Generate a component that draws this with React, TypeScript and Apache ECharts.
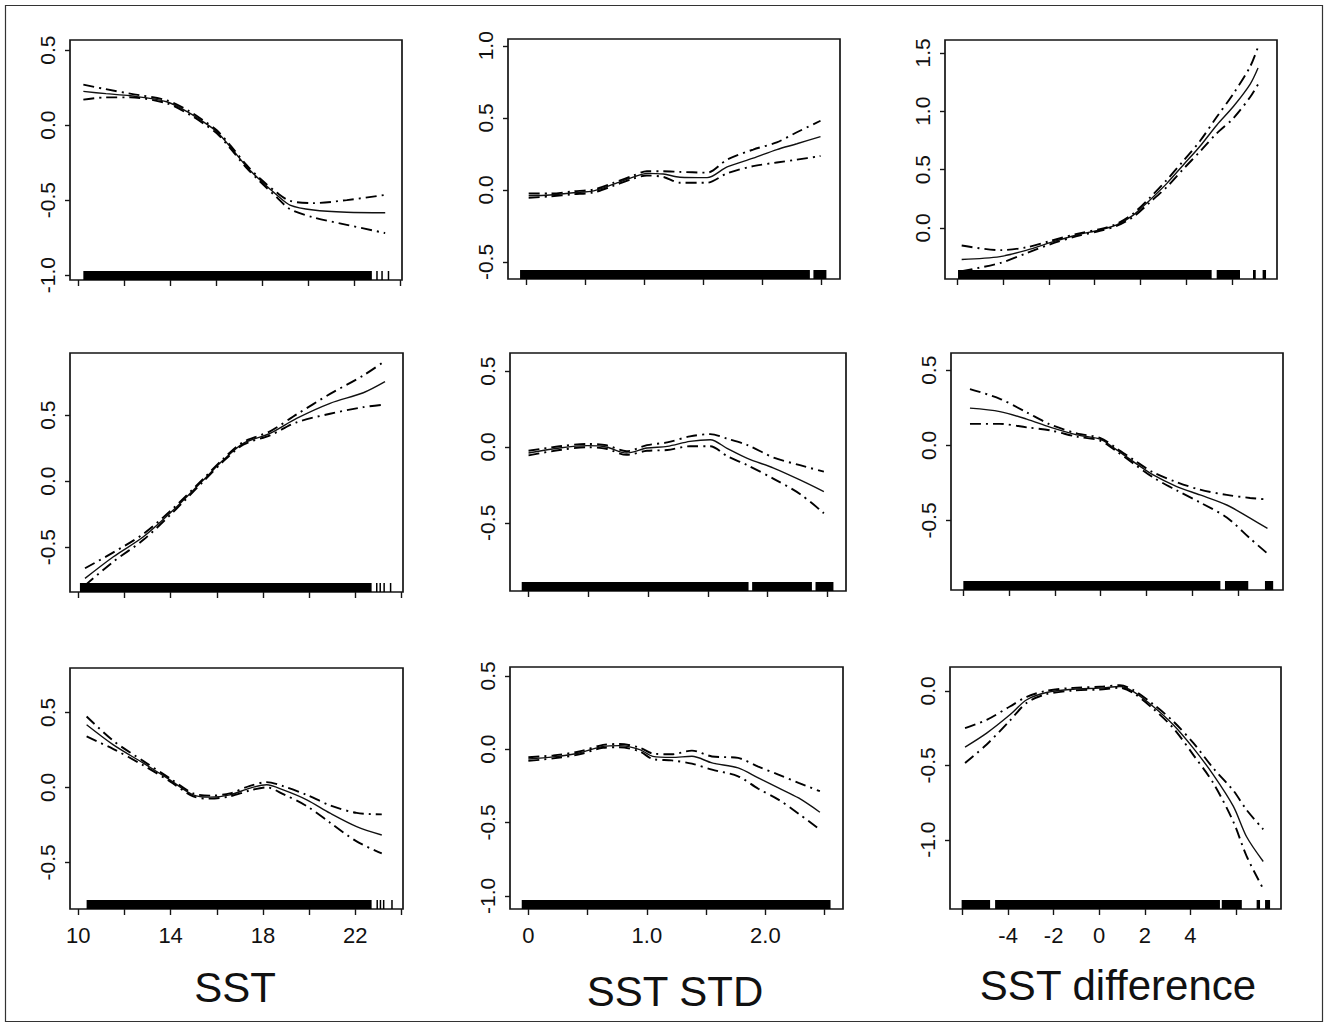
import React, { useEffect, useRef } from "react";
import * as echarts from "echarts";

const FONT = '"Liberation Sans", Arial, Helvetica, sans-serif';

// ---------- axis ticks / labels ----------
const sstTicks = [10, 12, 14, 16, 18, 20, 22, 24];
const sstTickLabels = [10, 14, 18, 22];
const stdTicks = [0, 0.5, 1, 1.5, 2, 2.5];
const stdTickLabels = [0, 1, 2];
const difTicks = [-6, -4, -2, 0, 2, 4, 6];
const difTickLabels = [-4, -2, 0, 2, 4];
const xTitles = ["SST", "SST STD", "SST difference"];

// x-axis extents per column (SST, SST STD, SST difference)
const sstRange = [9.64, 24.07];
const stdRange = [-0.155, 2.655];
const difRange = [-6.55, 7.98];

// ---------- row 1 ----------
const A_x = [10.22, 11.2, 12.25, 13.84, 14.86, 15.42, 16.02, 16.6, 17.32, 17.9, 18.63, 19.2, 20.22, 21.67, 23.34];
const A_fit = [0.225, 0.21, 0.196, 0.156, 0.079, 0.023, -0.044, -0.144, -0.277, -0.366, -0.466, -0.533, -0.566, -0.581, -0.584];
const A_up = [0.27, 0.24, 0.21, 0.166, 0.09, 0.033, -0.034, -0.134, -0.267, -0.356, -0.45, -0.505, -0.52, -0.5, -0.465];
const A_lo = [0.17, 0.185, 0.185, 0.146, 0.068, 0.013, -0.054, -0.154, -0.287, -0.376, -0.482, -0.56, -0.615, -0.665, -0.72];
const A_rug = [[10.22, 22.76], [22.95, 23.0], [23.17, 23.22], [23.45, 23.5]];
const A_yTicks = [-1, -0.5, 0, 0.5];
const A_yRange = [-1.033, 0.568];

const B_x = [0.02, 0.2, 0.4, 0.57, 0.74, 0.91, 1.02, 1.16, 1.3, 1.53, 1.7, 1.92, 2.12, 2.29, 2.49];
const B_fit = [-0.04, -0.035, -0.02, -0.007, 0.04, 0.09, 0.115, 0.11, 0.088, 0.085, 0.16, 0.22, 0.28, 0.32, 0.37];
const B_up = [-0.025, -0.025, -0.01, 0.003, 0.05, 0.1, 0.13, 0.13, 0.125, 0.12, 0.21, 0.28, 0.33, 0.4, 0.48];
const B_lo = [-0.055, -0.045, -0.03, -0.017, 0.03, 0.08, 0.1, 0.09, 0.05, 0.05, 0.115, 0.165, 0.19, 0.21, 0.235];
const B_rug = [[-0.053, 2.4], [2.43, 2.54]];
const B_yTicks = [-0.5, 0, 0.5, 1];
const B_yRange = [-0.618, 1.047];

const C_x = [-5.82, -4.14, -2.97, -1.95, -0.78, 0.23, 0.96, 1.69, 2.42, 3.15, 3.88, 4.61, 5.34, 6.07, 6.8, 7.15];
const C_fit = [-0.27, -0.245, -0.19, -0.126, -0.06, -0.017, 0.026, 0.11, 0.24, 0.38, 0.54, 0.7, 0.88, 1.04, 1.23, 1.37];
const C_up = [-0.15, -0.19, -0.165, -0.112, -0.05, -0.01, 0.035, 0.125, 0.26, 0.41, 0.575, 0.745, 0.95, 1.15, 1.38, 1.55];
const C_lo = [-0.37, -0.3, -0.215, -0.14, -0.07, -0.025, 0.017, 0.095, 0.22, 0.35, 0.505, 0.655, 0.81, 0.94, 1.12, 1.23];
const C_rug = [[-5.98, 5.12], [5.34, 6.36], [6.93, 7.05], [7.35, 7.5]];
const C_yTicks = [0, 0.5, 1, 1.5];
const C_yRange = [-0.437, 1.61];

// ---------- row 2 ----------
const D_x = [10.29, 11.52, 12.82, 14.12, 15.42, 16.28, 17.15, 18.31, 19.46, 20.91, 22.35, 23.29];
const D_fit = [-0.737, -0.573, -0.422, -0.219, 0.008, 0.159, 0.286, 0.362, 0.475, 0.589, 0.669, 0.753];
const D_up = [-0.66, -0.54, -0.4, -0.205, 0.018, 0.169, 0.296, 0.377, 0.505, 0.66, 0.8, 0.91];
const D_lo = [-0.79, -0.61, -0.445, -0.233, -0.002, 0.149, 0.276, 0.347, 0.445, 0.51, 0.56, 0.58];
const D_rug = [[10.07, 22.71], [22.9, 22.95], [23.05, 23.1], [23.22, 23.27], [23.5, 23.55]];
const D_yTicks = [-0.5, 0, 0.5];
const D_yRange = [-0.84, 0.97];

const E_x = [0.0, 0.26, 0.49, 0.65, 0.82, 0.99, 1.16, 1.35, 1.52, 1.66, 1.83, 2.05, 2.27, 2.47];
const E_fit = [-0.04, -0.007, 0.009, 0.0, -0.04, -0.007, 0.004, 0.037, 0.048, -0.009, -0.075, -0.139, -0.217, -0.294];
const E_up = [-0.025, 0.005, 0.02, 0.012, -0.028, 0.012, 0.03, 0.07, 0.085, 0.055, 0.013, -0.07, -0.12, -0.163];
const E_lo = [-0.055, -0.02, -0.002, -0.012, -0.052, -0.025, -0.02, 0.005, 0.005, -0.06, -0.12, -0.21, -0.31, -0.437];
const E_rug = [[-0.057, 1.84], [1.87, 2.37], [2.4, 2.55]];
const E_yTicks = [-0.5, 0, 0.5];
const E_yRange = [-0.95, 0.62];

const F_x = [-5.72, -4.41, -3.24, -2.22, -1.05, -0.03, 0.7, 1.43, 2.3, 3.33, 4.35, 5.52, 6.54, 7.3];
const F_fit = [0.248, 0.225, 0.175, 0.121, 0.07, 0.041, -0.03, -0.108, -0.197, -0.274, -0.33, -0.397, -0.485, -0.552];
const F_up = [0.375, 0.31, 0.22, 0.14, 0.08, 0.05, -0.02, -0.095, -0.18, -0.245, -0.295, -0.33, -0.35, -0.36];
const F_lo = [0.143, 0.143, 0.12, 0.1, 0.058, 0.032, -0.04, -0.12, -0.214, -0.3, -0.38, -0.48, -0.62, -0.72];
const F_rug = [[-6.01, 5.24], [5.44, 6.46], [7.19, 7.55]];
const F_yTicks = [-0.5, 0, 0.5];
const F_yRange = [-0.963, 0.615];

// ---------- row 3 ----------
const G_x = [10.36, 11.52, 12.82, 13.97, 14.98, 15.71, 16.57, 17.44, 18.16, 18.88, 19.9, 20.91, 22.06, 23.15];
const G_fit = [0.417, 0.283, 0.161, 0.05, -0.05, -0.065, -0.05, -0.005, 0.017, -0.017, -0.083, -0.172, -0.261, -0.317];
const G_up = [0.472, 0.31, 0.175, 0.06, -0.04, -0.055, -0.04, 0.01, 0.035, 0.008, -0.05, -0.12, -0.17, -0.18];
const G_lo = [0.339, 0.255, 0.147, 0.04, -0.06, -0.075, -0.06, -0.02, 0.0, -0.045, -0.125, -0.235, -0.36, -0.44];
const G_rug = [[10.36, 22.71], [22.92, 22.96], [23.06, 23.1], [23.2, 23.24], [23.56, 23.6]];
const G_yTicks = [-0.5, 0, 0.5];
const G_yRange = [-0.81, 0.795];

const H_x = [0.0, 0.21, 0.43, 0.63, 0.77, 0.94, 1.05, 1.21, 1.38, 1.55, 1.77, 1.94, 2.11, 2.28, 2.46];
const H_fit = [-0.067, -0.053, -0.026, 0.019, 0.024, -0.003, -0.049, -0.056, -0.049, -0.094, -0.128, -0.196, -0.264, -0.333, -0.43];
const H_up = [-0.055, -0.043, -0.016, 0.029, 0.035, 0.01, -0.03, -0.035, -0.01, -0.05, -0.06, -0.12, -0.174, -0.23, -0.287];
const H_lo = [-0.08, -0.063, -0.036, 0.009, 0.013, -0.016, -0.068, -0.077, -0.099, -0.14, -0.185, -0.27, -0.344, -0.44, -0.549];
const H_rug = [[-0.056, 2.55]];
const H_yTicks = [-1, -0.5, 0, 0.5];
const H_yRange = [-1.09, 0.56];

const I_x = [-5.89, -4.94, -3.92, -3.18, -2.31, -1.14, 0.03, 0.91, 1.5, 2.37, 3.25, 4.13, 5.01, 5.89, 6.47, 7.2];
const I_fit = [-0.378, -0.284, -0.161, -0.06, -0.011, 0.011, 0.018, 0.029, -0.005, -0.105, -0.228, -0.385, -0.564, -0.776, -0.98, -1.146];
const I_up = [-0.25, -0.195, -0.105, -0.04, 0.0, 0.02, 0.027, 0.038, 0.005, -0.09, -0.205, -0.35, -0.52, -0.67, -0.8, -0.93];
const I_lo = [-0.485, -0.36, -0.2, -0.08, -0.022, 0.002, 0.009, 0.02, -0.015, -0.12, -0.25, -0.43, -0.62, -0.88, -1.11, -1.33];
const I_rug = [[-6.04, -4.79], [-4.57, 5.3], [5.38, 6.26], [6.91, 7.06], [7.28, 7.5]];
const I_yTicks = [-1, -0.5, 0];
const I_yRange = [-1.465, 0.16];

// ---------- layout (pixel boxes of the nine plot frames) ----------
const BOXES = [
  [70, 40, 402, 280],
  [508, 39, 840, 279],
  [945, 40, 1277, 279],
  [70, 353, 403, 592],
  [510, 353, 846, 591],
  [951, 353, 1283, 590],
  [70, 668, 403, 909],
  [510, 667, 843, 909],
  [950, 667, 1281, 909],
];
const TITLE_POS = [
  [235, 987],
  [675, 991],
  [1118, 985],
];
const RUG_H = 9;

const panels = [
  { x: A_x, fit: A_fit, up: A_up, lo: A_lo, rug: A_rug, yTicks: A_yTicks, yRange: A_yRange, col: 0, row: 0 },
  { x: B_x, fit: B_fit, up: B_up, lo: B_lo, rug: B_rug, yTicks: B_yTicks, yRange: B_yRange, col: 1, row: 0 },
  { x: C_x, fit: C_fit, up: C_up, lo: C_lo, rug: C_rug, yTicks: C_yTicks, yRange: C_yRange, col: 2, row: 0 },
  { x: D_x, fit: D_fit, up: D_up, lo: D_lo, rug: D_rug, yTicks: D_yTicks, yRange: D_yRange, col: 0, row: 1 },
  { x: E_x, fit: E_fit, up: E_up, lo: E_lo, rug: E_rug, yTicks: E_yTicks, yRange: E_yRange, col: 1, row: 1 },
  { x: F_x, fit: F_fit, up: F_up, lo: F_lo, rug: F_rug, yTicks: F_yTicks, yRange: F_yRange, col: 2, row: 1 },
  { x: G_x, fit: G_fit, up: G_up, lo: G_lo, rug: G_rug, yTicks: G_yTicks, yRange: G_yRange, col: 0, row: 2 },
  { x: H_x, fit: H_fit, up: H_up, lo: H_lo, rug: H_rug, yTicks: H_yTicks, yRange: H_yRange, col: 1, row: 2 },
  { x: I_x, fit: I_fit, up: I_up, lo: I_lo, rug: I_rug, yTicks: I_yTicks, yRange: I_yRange, col: 2, row: 2 },
];

const colX = [
  { range: sstRange, ticks: sstTicks, labels: sstTickLabels, fmt: (v: number) => String(v) },
  { range: stdRange, ticks: stdTicks, labels: stdTickLabels, fmt: (v: number) => (v === 0 ? "0" : v.toFixed(1)) },
  { range: difRange, ticks: difTicks, labels: difTickLabels, fmt: (v: number) => String(v) },
];

function buildOption() {
  const grid: any[] = [];
  const xAxis: any[] = [];
  const yAxis: any[] = [];
  const series: any[] = [];
  const axisColor = "#151515";

  panels.forEach((p, i) => {
    const b = BOXES[i];
    const cx = colX[p.col];
    grid.push({
      left: b[0],
      top: b[1],
      width: b[2] - b[0],
      height: b[3] - b[1],
      show: true,
      borderColor: axisColor,
      borderWidth: 1.7,
      backgroundColor: "transparent",
      containLabel: false,
      outerBoundsMode: "none",
    });
    xAxis.push({
      type: "value",
      gridIndex: i,
      min: cx.range[0],
      max: cx.range[1],
      axisLine: { show: false, onZero: false },
      axisTick: {
        show: true,
        inside: false,
        length: 6,
        customValues: cx.ticks,
        lineStyle: { color: axisColor, width: 1.4 },
      },
      axisLabel: {
        show: p.row === 2,
        customValues: cx.labels,
        formatter: cx.fmt,
        fontSize: 22,
        fontFamily: FONT,
        color: "#111",
        margin: 15,
      },
      splitLine: { show: false },
    });
    yAxis.push({
      type: "value",
      gridIndex: i,
      min: p.yRange[0],
      max: p.yRange[1],
      axisLine: { show: false, onZero: false },
      axisTick: {
        show: true,
        inside: false,
        length: 5,
        customValues: p.yTicks,
        lineStyle: { color: axisColor, width: 1.4 },
      },
      axisLabel: {
        show: true,
        customValues: p.yTicks,
        formatter: (v: number) => v.toFixed(1),
        rotate: 90,
        fontSize: 21,
        fontFamily: FONT,
        color: "#111",
        margin: 12,
      },
      splitLine: { show: false },
    });

    const toPairs = (ys: number[]) => p.x.map((xv, k) => [xv, ys[k]]);
    series.push({
      type: "line",
      xAxisIndex: i,
      yAxisIndex: i,
      data: toPairs(p.fit),
      showSymbol: false,
      smooth: 0.3,
      silent: true,
      lineStyle: { color: "#111", width: 1.4 },
      z: 3,
    });
    [p.up, p.lo].forEach((ys) => {
      series.push({
        type: "line",
        xAxisIndex: i,
        yAxisIndex: i,
        data: toPairs(ys),
        showSymbol: false,
        smooth: 0.3,
        silent: true,
        lineStyle: { color: "#000", width: 1.9, type: [11, 5, 2, 5] },
        z: 3,
      });
    });
    const yMin = p.yRange[0];
    series.push({
      type: "custom",
      xAxisIndex: i,
      yAxisIndex: i,
      silent: true,
      data: p.rug.map((r) => [r[0], r[1], yMin]),
      encode: { x: [0, 1], y: 2 },
      renderItem: (params: any, api: any) => {
        const p0 = api.coord([api.value(0), api.value(2)]);
        const p1 = api.coord([api.value(1), api.value(2)]);
        return {
          type: "rect",
          shape: {
            x: p0[0],
            y: p0[1] - RUG_H,
            width: Math.max(p1[0] - p0[0], 1.5),
            height: RUG_H,
          },
          style: { fill: "#000" },
        };
      },
      z: 2,
    });
  });

  const graphic: any[] = [
    {
      type: "rect",
      silent: true,
      shape: { x: 5.5, y: 5.5, width: 1317, height: 1016 },
      style: { fill: "none", stroke: "#333", lineWidth: 1.2 },
    },
  ];
  xTitles.forEach((t, c) => {
    graphic.push({
      type: "text",
      silent: true,
      x: TITLE_POS[c][0],
      y: TITLE_POS[c][1],
      style: {
        text: t,
        font: `42px ${FONT}`,
        fill: "#111",
        textAlign: "center",
        textVerticalAlign: "middle",
        verticalAlign: "middle",
      },
    });
  });

  return {
    animation: false,
    backgroundColor: "#fff",
    grid,
    xAxis,
    yAxis,
    series,
    graphic,
  };
}

export default function App() {
  const ref = useRef<HTMLDivElement | null>(null);
  useEffect(() => {
    if (!ref.current) return;
    const chart = echarts.init(ref.current, null, { renderer: "svg" });
    chart.setOption(buildOption() as any);
    return () => chart.dispose();
  }, []);
  return (
    <div
      ref={ref}
      style={{
        position: "fixed",
        left: 0,
        top: 0,
        width: 1329,
        height: 1027,
        background: "#fff",
      }}
    />
  );
}
